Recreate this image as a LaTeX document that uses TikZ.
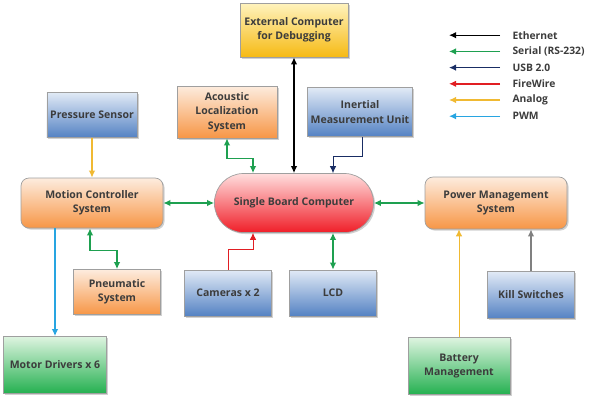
\documentclass[tikz,border=0pt]{standalone}
\usepackage{fontspec}
\setmainfont{Open Sans}
\usetikzlibrary{arrows.meta}
\usetikzlibrary{shadows}
\usetikzlibrary{positioning}

\definecolor{orangetop}{RGB}{253,236,222}
\definecolor{orangebot}{RGB}{247,150,70}
\definecolor{bluetop}{RGB}{225,234,246}
\definecolor{bluebot}{RGB}{84,130,195}
\definecolor{greentop}{RGB}{222,244,224}
\definecolor{greenbot}{RGB}{36,176,80}
\definecolor{yellowtop}{RGB}{255,243,190}
\definecolor{yellowbot}{RGB}{246,186,20}
\definecolor{redtop}{RGB}{255,222,222}
\definecolor{redbot}{RGB}{240,30,40}
\definecolor{ethcol}{RGB}{0,0,0}
\definecolor{sercol}{RGB}{30,160,80}
\definecolor{usbcol}{RGB}{25,45,100}
\definecolor{fwcol}{RGB}{225,30,35}
\definecolor{anacol}{RGB}{240,185,50}
\definecolor{pwmcol}{RGB}{40,165,225}
\definecolor{txtcol}{RGB}{60,60,60}

\tikzset{
	box/.style={draw=gray!75, line width=0.7pt, align=center,
		font=\bfseries\fontsize{10.5}{14.5}\selectfont, text=txtcol,
		drop shadow={shadow xshift=1.5pt, shadow yshift=-1.5pt, fill=gray!45, opacity=0.8}},
	orangebox/.style={box, top color=orangetop, bottom color=orangebot},
	bluebox/.style={box, top color=bluetop, bottom color=bluebot},
	greenbox/.style={box, top color=greentop, bottom color=greenbot},
	yellowbox/.style={box, top color=yellowtop, bottom color=yellowbot},
	redbox/.style={box, top color=redtop, bottom color=redbot},
	link/.style={line width=1.3pt, >={Latex[length=7pt, width=6.5pt]}},
	legtext/.style={anchor=west, font=\bfseries\fontsize{10.3}{12}\selectfont, text=txtcol}
}

\begin{document}
\begin{tikzpicture}[x=1pt, y=-1pt]
		\useasboundingbox (0,0) rectangle (600,400);
		
		% boxes
		\node[yellowbox, minimum width=108pt, minimum height=54pt] (extpc) at (294,30) {External Computer\\for Debugging};
		\node[orangebox, minimum width=100pt, minimum height=52pt, inner sep=1pt] (acoustic) at (227,112) {Acoustic\\Localization\\System};
		\node[bluebox, minimum width=99pt, minimum height=49pt] (imu) at (360,112) {Inertial\\Measurement Unit};
		\node[bluebox, minimum width=88pt, minimum height=45pt] (pressure) at (92,115) {Pressure Sensor};
		\node[orangebox, rounded corners=8pt, minimum width=142pt, minimum height=50pt] (motion) at (92,203) {Motion Controller\\System};
		\node[redbox, rounded corners=29pt, minimum width=159pt, minimum height=59pt] (sbc) at (294,203) {Single Board Computer};
		\node[orangebox, rounded corners=8pt, minimum width=142pt, minimum height=52pt] (power) at (496,203) {Power Management\\System};
		\node[orangebox, minimum width=87pt, minimum height=45pt] (pneumatic) at (117,292) {Pneumatic\\System};
		\node[bluebox, minimum width=87pt, minimum height=46pt] (cameras) at (228,293) {Cameras x 2};
		\node[bluebox, minimum width=87pt, minimum height=46pt] (lcd) at (333,293) {LCD};
		\node[bluebox, minimum width=87pt, minimum height=47pt] (kill) at (531,295) {Kill Switches};
		\node[greenbox, minimum width=103pt, minimum height=57pt] (motor) at (55,365) {Motor Drivers x 6};
		\node[greenbox, minimum width=102pt, minimum height=57pt] (battery) at (459,366) {Battery\\Management};
		
		% connections
		\draw[link, ethcol, line width=1.6pt, <->] (extpc.south) -- (sbc.north);
		\draw[link, sercol, <->] (acoustic.south) -- ++(0,20) -| ([xshift=-41pt]sbc.north);
		\draw[link, usbcol, line width=0.8pt, ->] ([xshift=2pt]imu.south) -- ++(0,20) -| ([xshift=39pt]sbc.north);
		\draw[link, anacol, ->] (pressure.south) -- (motion.north);
		\draw[link, sercol, <->] (motion.east) -- (sbc.west);
		\draw[link, sercol, <->] (sbc.east) -- (power.west);
		\draw[link, sercol, <->] ([xshift=-2pt]motion.south) -- ++(0,22) -| (pneumatic.north);
		\draw[link, pwmcol, ->] (motor.north |- motion.south) -- (motor.north);
		\draw[link, fwcol, line width=0.8pt, ->] (cameras.north) -- ++(0,-20) -| ([xshift=-41pt]sbc.south);
		\draw[link, sercol, <->] (lcd.north) -- (lcd.north |- sbc.south);
		\draw[link, anacol, line width=0.9pt, ->] (battery.north) -- (battery.north |- power.south);
		\draw[link, gray, line width=1.6pt, ->] (kill.north) -- (kill.north |- power.south);
		
		% legend
		\foreach \col/\lab [count=\i] in {ethcol/Ethernet, sercol/Serial (RS-232), usbcol/USB 2.0, fwcol/FireWire, anacol/Analog, pwmcol/PWM} {
			\coordinate (legtail\i) at (500, 19+16.2*\i);
			\coordinate (leghead\i) at (449, 19+16.2*\i);
			\draw[link, \col, line width=1.4pt, ->] (legtail\i) -- (leghead\i);
			\node[legtext] (leg\i) at (509, 19+16.2*\i) {\lab};
		}
	\end{tikzpicture}
\end{document}
